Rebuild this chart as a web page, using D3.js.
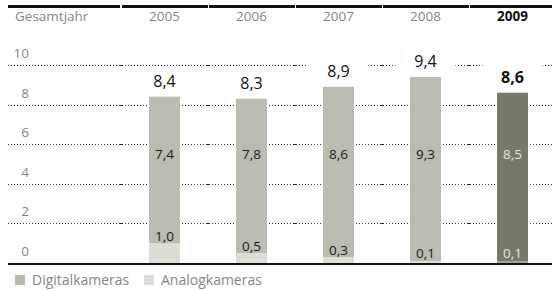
<!DOCTYPE html>
<html>
<head>
<meta charset="utf-8">
<script src="https://cdn.jsdelivr.net/npm/d3@7"></script>
<style>
  body { margin: 0; background: #fff; }
  svg { display: block; font-family: "Open Sans", "Noto Sans", sans-serif; }
</style>
</head>
<body>
<div id="chart"></div>
<script>
const years = ['2005', '2006', '2007', '2008', '2009']
const digital = [7.4, 7.8, 8.6, 9.3, 8.5]
const analog = [1.0, 0.5, 0.3, 0.1, 0.1]
const totals = ['8,4', '8,3', '8,9', '9,4', '8,6']
const digitalLabels = ['7,4', '7,8', '8,6', '9,3', '8,5']
const analogLabels = ['1,0', '0,5', '0,3', '0,1', '0,1']
const yTicks = [0, 2, 4, 6, 8, 10]
const headerLabel = 'Gesamtjahr'
const legendLabels = ['Digitalkameras', 'Analogkameras']

const width = 552, height = 290
const highlight = '2009'
const grey = '#87877f'

const svg = d3.select('#chart')
  .append('svg')
    .attr('width', width)
    .attr('height', height)

const x = d3.scaleBand()
  .domain(years)
  .range([121, 556])
  .paddingInner(0.644)
  .paddingOuter(0.322)

const y = d3.scaleLinear()
  .domain([0, 10])
  .range([263, 65])

const step = x.step()
const boundaries = years.map(d => x(d) - (step - x.bandwidth()) / 2)

// top rule with little gaps at the column boundaries
const topSegs = [8].concat(boundaries).concat([width])
for (let i = 0; i < topSegs.length - 1; i++) {
  svg.append('rect')
    .attr('x', topSegs[i] + (i ? 1 : 0))
    .attr('y', 5)
    .attr('width', topSegs[i + 1] - topSegs[i] - 1)
    .attr('height', 3)
    .attr('fill', '#111')
}

// header
svg.append('text')
  .attr('x', 15)
  .attr('y', 21)
  .attr('font-size', 13.5)
  .attr('fill', grey)
  .text(headerLabel)

svg.selectAll('.year')
  .data(years)
  .join('text')
    .attr('x', d => x(d) + x.bandwidth() / 2)
    .attr('y', 21)
    .attr('text-anchor', 'middle')
    .attr('font-size', 13.5)
    .attr('font-weight', d => d === highlight ? 'bold' : 'normal')
    .attr('fill', d => d === highlight ? '#111' : grey)
    .text(d => d)

// gridlines (dotted) + y labels
const grid = svg.append('g')
grid.selectAll('line')
  .data(yTicks.filter(t => t > 0))
  .join('line')
    .attr('x1', 8)
    .attr('x2', width)
    .attr('y1', d => Math.round(y(d)) + 0.5)
    .attr('y2', d => Math.round(y(d)) + 0.5)
    .attr('stroke', '#333')
    .attr('stroke-width', 1)
    .attr('stroke-dasharray', '1,2')

yTicks.filter(t => t > 0).forEach(t => {
  grid.selectAll(null)
    .data(boundaries)
    .join('rect')
      .attr('x', d => d - 2)
      .attr('y', Math.round(y(t)))
      .attr('width', 4)
      .attr('height', 1)
      .attr('fill', '#222')
})

svg.selectAll('.ylab')
  .data(yTicks)
  .join('text')
    .attr('x', 29)
    .attr('y', d => y(d) - 7)
    .attr('text-anchor', 'end')
    .attr('font-size', 13.5)
    .attr('fill', grey)
    .text(d => d)

// bars
const rows = years.map((yr, i) => ({ year: yr, digital: digital[i], analog: analog[i], i }))

const digiColor = d => d.year === highlight ? '#767a6a' : '#b9bcb1'
const anaColor = d => d.year === highlight ? '#a4a797' : '#dcddd4'

svg.selectAll('.analog')
  .data(rows)
  .join('rect')
    .attr('x', d => x(d.year))
    .attr('width', x.bandwidth())
    .attr('y', d => y(d.analog))
    .attr('height', d => y(0) - y(d.analog))
    .attr('fill', anaColor)

svg.selectAll('.digital')
  .data(rows)
  .join('rect')
    .attr('x', d => x(d.year))
    .attr('width', x.bandwidth())
    .attr('y', d => y(d.analog + d.digital))
    .attr('height', d => y(d.analog) - y(d.analog + d.digital))
    .attr('fill', digiColor)

// total labels with white backing
const totalG = svg.selectAll('.total')
  .data(rows)
  .join('g')
    .attr('transform', d => `translate(${x(d.year) + x.bandwidth() / 2},${y(d.analog + d.digital) - 10})`)

totalG.append('rect')
  .attr('x', -30)
  .attr('y', -20)
  .attr('width', 60)
  .attr('height', 23)
  .attr('fill', '#fff')

totalG.append('text')
  .attr('text-anchor', 'middle')
  .attr('font-size', 16)
  .attr('font-weight', d => d.year === highlight ? 'bold' : 'normal')
  .attr('fill', '#111')
  .text(d => totals[d.i])

// inner labels
svg.selectAll('.dlab')
  .data(rows)
  .join('text')
    .attr('x', d => x(d.year) + x.bandwidth() / 2)
    .attr('y', y(5.5) + 5)
    .attr('text-anchor', 'middle')
    .attr('font-size', 13.5)
    .attr('fill', d => d.year === highlight ? '#e6e6de' : '#1a1a1a')
    .text(d => digitalLabels[d.i])

svg.selectAll('.alab')
  .data(rows)
  .join('text')
    .attr('x', d => x(d.year) + x.bandwidth() / 2)
    .attr('y', d => Math.min(y(d.analog) - 2, y(0) - 5))
    .attr('text-anchor', 'middle')
    .attr('font-size', 13.5)
    .attr('fill', d => d.year === highlight ? '#e6e6de' : '#1a1a1a')
    .text(d => analogLabels[d.i])

// baseline
svg.append('rect')
  .attr('x', 8)
  .attr('y', y(0))
  .attr('width', width - 8)
  .attr('height', 2)
  .attr('fill', '#111')

// legend
const legColors = ['#b9bcb1', '#dcddd4']
const legX = [15, 144]
legendLabels.forEach((lab, i) => {
  svg.append('rect')
    .attr('x', legX[i])
    .attr('y', 275)
    .attr('width', 10)
    .attr('height', 10)
    .attr('fill', legColors[i])
  svg.append('text')
    .attr('x', legX[i] + 17)
    .attr('y', 285)
    .attr('font-size', 14)
    .attr('fill', grey)
    .text(lab)
})
</script>
</body>
</html>
